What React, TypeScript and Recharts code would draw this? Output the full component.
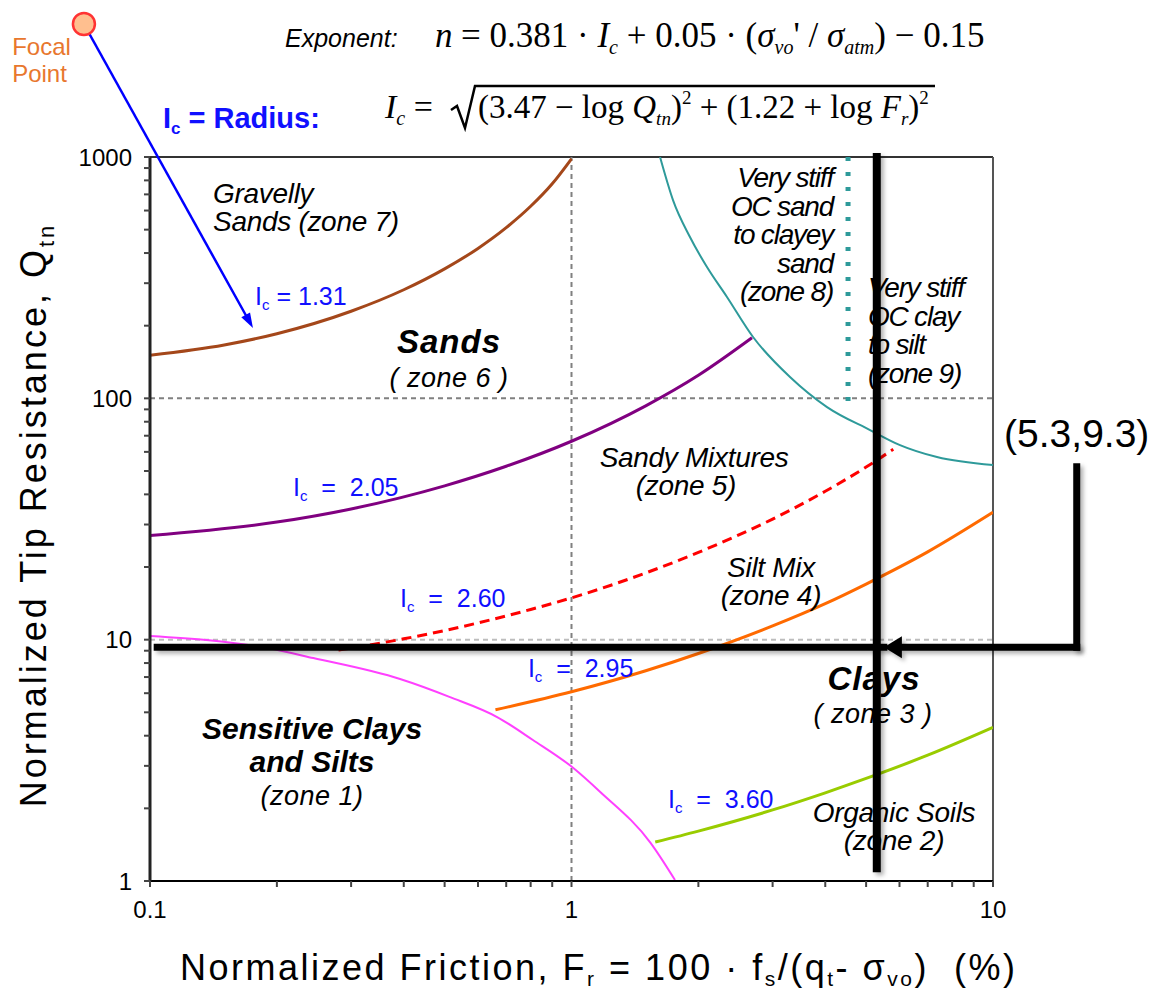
import React from 'react';
import { LineChart, Line, XAxis, YAxis, ReferenceLine, ReferenceDot } from 'recharts';

const SANS = '"Liberation Sans", Arial, sans-serif';
const SERIF = '"Liberation Serif", "Times New Roman", serif';

// log axes: friction ratio Fr (%) and normalized tip resistance Qtn
const frTicks = [0.1, 0.2, 0.3, 0.4, 0.5, 0.6, 0.7, 0.8, 0.9, 1, 2, 3, 4, 5, 6, 7, 8, 9, 10];
const qTicks = [
  1, 2, 3, 4, 5, 6, 7, 8, 9, 10, 20, 30, 40, 50, 60, 70, 80, 90,
  100, 200, 300, 400, 500, 600, 700, 800, 900, 1000,
];
const frLabels = [0.1, 1, 10];
const qLabels = [1, 10, 100, 1000];
const gridFr = [1];
const gridQ = [10, 100];

// I_c contour lines
const ic131 = [
  { fr: 0.1, q: 150.9 }, { fr: 0.15, q: 166.4 }, { fr: 0.2, q: 185.3 }, { fr: 0.3, q: 229.6 },
  { fr: 0.4, q: 281.8 }, { fr: 0.5, q: 344 }, { fr: 0.6, q: 418 }, { fr: 0.7, q: 509.6 },
  { fr: 0.8, q: 624.8 }, { fr: 0.9, q: 774.8 }, { fr: 1.0, q: 983.5 },
];
const ic205 = [
  { fr: 0.1, q: 27.0 }, { fr: 0.2, q: 30.7 }, { fr: 0.3, q: 34.8 }, { fr: 0.5, q: 43.4 },
  { fr: 0.7, q: 52.3 }, { fr: 1.0, q: 66.4 }, { fr: 1.5, q: 93.1 }, { fr: 2.0, q: 124.6 },
  { fr: 2.68, q: 178.2 },
];
const ic260 = [
  { fr: 0.28, q: 9.06 }, { fr: 0.4, q: 10.08 }, { fr: 0.6, q: 11.73 }, { fr: 0.8, q: 13.34 },
  { fr: 1.0, q: 14.9 }, { fr: 1.5, q: 18.9 }, { fr: 2, q: 23.0 }, { fr: 3, q: 31.6 },
  { fr: 4, q: 41.2 }, { fr: 5, q: 51.9 }, { fr: 5.8, q: 61.5 },
];
const ic295 = [
  { fr: 0.66, q: 5.12 }, { fr: 1, q: 6.08 }, { fr: 1.5, q: 7.43 }, { fr: 2, q: 8.76 },
  { fr: 3, q: 11.4 }, { fr: 4, q: 14.1 }, { fr: 5, q: 17.0 }, { fr: 7, q: 23.1 }, { fr: 10, q: 33.7 },
];
const ic360 = [
  { fr: 1.58, q: 1.45 }, { fr: 2, q: 1.61 }, { fr: 3, q: 1.97 }, { fr: 4, q: 2.32 },
  { fr: 5, q: 2.66 }, { fr: 7, q: 3.32 }, { fr: 10, q: 4.33 },
];
// zone 1 boundary
const zone1Edge = [
  { fr: 0.1, q: 10.35 }, { fr: 0.19, q: 9.23 }, { fr: 0.244, q: 8.39 }, { fr: 0.392, q: 6.87 },
  { fr: 0.515, q: 5.78 }, { fr: 0.666, q: 4.78 }, { fr: 0.81, q: 3.84 }, { fr: 1.01, q: 2.94 },
  { fr: 1.17, q: 2.34 }, { fr: 1.54, q: 1.44 }, { fr: 1.76, q: 1.01 },
];
// zone 8/9 boundary
const zone8Edge = [
  { fr: 1.622, q: 1000 }, { fr: 1.741, q: 663 }, { fr: 1.91, q: 466 }, { fr: 2.096, q: 350 },
  { fr: 2.338, q: 263 }, { fr: 2.696, q: 179.5 }, { fr: 3.299, q: 122.6 }, { fr: 4.039, q: 92.0 },
  { fr: 5.108, q: 73.9 }, { fr: 6.017, q: 64.0 }, { fr: 7.364, q: 57.1 }, { fr: 10, q: 52.9 },
];
const zone89Split = { fr: 4.53, qTop: 1000, qBottom: 90 };

// example reading and its call-out
const caseFr = 5.3;
const caseQ = 9.3;
const caseLineStartFr = 0.104;
const caseLineBottomQ = 1.13;
const calloutFr = 15.8;
const calloutTopQ = 52;
const calloutTipFr = 5.51;
const calloutText = { fr: 15.8, q: 62.8, text: '(5.3,9.3)' };

// focal point and radius arrow
const focal = { fr: 0.0697, q: 3557 };
const radiusTip = { fr: 0.1755, q: 195.6 };

const icNotes = [
  { fr: 0.1775, q: 243.6, text: ' = 1.31' },
  { fr: 0.2184, q: 39.4, text: '  =  2.05' },
  { fr: 0.3918, q: 13.65, text: '  =  2.60' },
  { fr: 0.788, q: 7.0, text: '  =  2.95' },
  { fr: 1.694, q: 2.005, text: '  =  3.60' },
];

const notes = [
  { fr: 0.1411, q: 644.7, anchor: 'start', kind: 'zone', lines: ['Gravelly', 'Sands (zone 7)'] },
  { fr: 0.5122, q: 154.0, anchor: 'middle', kind: 'major', lines: ['Sands'] },
  { fr: 0.5122, q: 111.4, anchor: 'middle', kind: 'wide', lines: ['( zone 6 )'] },
  { fr: 1.953, q: 51.9, anchor: 'middle', kind: 'zone', lines: ['Sandy Mixtures'] },
  { fr: 1.869, q: 39.7, anchor: 'middle', kind: 'zone', lines: ['(zone 5)'] },
  { fr: 2.974, q: 18.17, anchor: 'middle', kind: 'zone', lines: ['Silt Mix', '(zone 4)'] },
  { fr: 5.22, q: 6.18, anchor: 'middle', kind: 'major', lines: ['Clays'] },
  { fr: 5.19, q: 4.51, anchor: 'middle', kind: 'wide', lines: ['( zone 3 )'] },
  { fr: 0.2423, q: 3.873, anchor: 'middle', kind: 'bold', lines: ['Sensitive Clays', 'and Silts'] },
  { fr: 0.2423, q: 2.063, anchor: 'middle', kind: 'wide', lines: ['(zone 1)'] },
  { fr: 5.823, q: 1.754, anchor: 'middle', kind: 'zone', lines: ['Organic Soils', '(zone 2)'] },
  { fr: 4.173, q: 751, anchor: 'end', kind: 'tight', lines: ['Very stiff', 'OC sand', 'to clayey', 'sand', '(zone 8)'] },
  { fr: 5.05, q: 262.9, anchor: 'start', kind: 'tight', lines: ['Very stiff', 'OC clay', 'to silt', '(zone 9)'] },
  { fr: 0.0471, q: 2647, anchor: 'start', kind: 'focal', lines: ['Focal', 'Point'] },
];
const radiusNote = { fr: 0.1073, q: 1319 };
const eq1Anchor = { fr: 0.2091, q: 2857 };
const eq2Anchor = { fr: 0.361, q: 1451 };

const noteStyles: Record<string, any> = {
  zone: { size: 28, italic: true, bold: false, color: '#000', spacing: -0.3, lineHeight: 28 },
  tight: { size: 28, italic: true, bold: false, color: '#000', spacing: -1.2, lineHeight: 28.5 },
  wide: { size: 27, italic: true, bold: false, color: '#000', spacing: 0.5, lineHeight: 30 },
  major: { size: 33, italic: true, bold: true, color: '#000', spacing: 1, lineHeight: 34 },
  bold: { size: 30, italic: true, bold: true, color: '#000', spacing: 0, lineHeight: 33 },
  focal: { size: 24, italic: false, bold: false, color: '#E8772E', spacing: 0, lineHeight: 27 },
};

const shadow = 'drop-shadow(3px 3px 2px rgba(0,0,0,0.3))';

function thickLine(width: number) {
  return (p: any) => (
    <line x1={p.x1} y1={p.y1} x2={p.x2} y2={p.y2} stroke="#000" strokeWidth={width}
      strokeLinecap="square" style={{ filter: shadow }} />
  );
}

function arrowLine(color: string, width: number, headLen: number, headHalf: number, withShadow: boolean) {
  return (p: any) => {
    const dx = p.x2 - p.x1;
    const dy = p.y2 - p.y1;
    const len = Math.hypot(dx, dy) || 1;
    const ux = dx / len;
    const uy = dy / len;
    const bx = p.x2 - ux * headLen;
    const by = p.y2 - uy * headLen;
    const pts = `${p.x2},${p.y2} ${bx - uy * headHalf},${by + ux * headHalf} ${bx + uy * headHalf},${by - ux * headHalf}`;
    return (
      <g style={withShadow ? { filter: shadow } : undefined}>
        <line x1={p.x1} y1={p.y1} x2={bx} y2={by} stroke={color} strokeWidth={width} strokeLinecap="square" />
        <polygon points={pts} fill={color} />
      </g>
    );
  };
}

function NoteText({ cx, cy, note }: any) {
  const s = noteStyles[note.kind];
  return (
    <text x={cx} y={cy} textAnchor={note.anchor} fontFamily={SANS} fontSize={s.size}
      fontStyle={s.italic ? 'italic' : 'normal'} fontWeight={s.bold ? 'bold' : 'normal'}
      fill={s.color} letterSpacing={s.spacing} style={{ whiteSpace: 'pre' }}>
      {note.lines.map((t: string, i: number) => (
        <tspan key={i} x={cx} dy={i === 0 ? 0 : s.lineHeight}>{t}</tspan>
      ))}
    </text>
  );
}

function IcText({ cx, cy, text }: any) {
  return (
    <text x={cx} y={cy} fontFamily={SANS} fontSize={25} fill="#1010ff" style={{ whiteSpace: 'pre' }}>
      I<tspan fontSize={15} dy={5}>c</tspan><tspan dy={-5}>{text}</tspan>
    </text>
  );
}

function RadiusText({ cx, cy }: any) {
  return (
    <text x={cx} y={cy} fontFamily={SANS} fontSize={29} fontWeight="bold" fill="#1010ff" style={{ whiteSpace: 'pre' }}>
      I<tspan fontSize={17} dy={6}>c</tspan><tspan dy={-6}>{' = Radius:'}</tspan>
    </text>
  );
}

function Equation1({ cx, cy }: any) {
  return (
    <g fill="#000">
      <text x={cx} y={cy} fontFamily={SANS} fontStyle="italic" fontSize={25}>Exponent:</text>
      <text x={cx + 150} y={cy} fontFamily={SERIF} fontStyle="italic" fontSize={35}>n</text>
      <text x={cx + 176} y={cy} fontFamily={SERIF} fontSize={35} style={{ whiteSpace: 'pre' }}>
        {'= 0.381 · '}
        <tspan fontStyle="italic">I</tspan>
        <tspan fontSize={20} dy={7} fontStyle="italic">c</tspan>
        <tspan dy={-7}>{' + 0.05 · ('}</tspan>
        <tspan fontStyle="italic">σ</tspan>
        <tspan fontSize={20} dy={7} fontStyle="italic">vo</tspan>
        <tspan dy={-7}>{"' / "}</tspan>
        <tspan fontStyle="italic">σ</tspan>
        <tspan fontSize={20} dy={7} fontStyle="italic">atm</tspan>
        <tspan dy={-7}>{') − 0.15'}</tspan>
      </text>
    </g>
  );
}

function Equation2({ cx, cy }: any) {
  return (
    <g fill="#000">
      <text x={cx} y={cy} fontFamily={SERIF} fontSize={34} style={{ whiteSpace: 'pre' }}>
        <tspan fontStyle="italic">I</tspan>
        <tspan fontSize={20} dy={7} fontStyle="italic">c</tspan>
        <tspan dy={-7}>{' = '}</tspan>
      </text>
      <polyline
        points={`${cx + 66},${cy - 8} ${cx + 72},${cy - 12} ${cx + 80},${cy + 10} ${cx + 90},${cy - 32} ${cx + 550},${cy - 32}`}
        fill="none" stroke="#000" strokeWidth={2.5} />
      <text x={cx + 93} y={cy} fontFamily={SERIF} fontSize={33} style={{ whiteSpace: 'pre' }}>
        {'(3.47 − log '}
        <tspan fontStyle="italic">Q</tspan>
        <tspan fontSize={19} dy={7} fontStyle="italic">tn</tspan>
        <tspan dy={-7}>)</tspan>
        <tspan fontSize={19} dy={-14}>2</tspan>
        <tspan dy={14}>{' + (1.22 + log '}</tspan>
        <tspan fontStyle="italic">F</tspan>
        <tspan fontSize={19} dy={7} fontStyle="italic">r</tspan>
        <tspan dy={-7}>)</tspan>
        <tspan fontSize={19} dy={-14}>2</tspan>
      </text>
    </g>
  );
}

function XTitle({ viewBox }: any) {
  const x = viewBox.x + 30;
  const y = viewBox.y + 99;
  return (
    <text x={x} y={y} fontFamily={SANS} fontSize={36} letterSpacing={2.5} fill="#000" style={{ whiteSpace: 'pre' }}>
      {'Normalized Friction, F'}
      <tspan fontSize={21} dy={6}>r</tspan>
      <tspan dy={-6}>{' = 100 · f'}</tspan>
      <tspan fontSize={21} dy={6}>s</tspan>
      <tspan dy={-6}>{'/(q'}</tspan>
      <tspan fontSize={21} dy={6}>t</tspan>
      <tspan dy={-6}>{'- σ'}</tspan>
      <tspan fontSize={21} dy={6}>vo</tspan>
      <tspan dy={-6}>{')  (%)'}</tspan>
    </text>
  );
}

function YTitle({ viewBox }: any) {
  const x = viewBox.x - 44;
  const y = viewBox.y + viewBox.height / 2 - 4;
  return (
    <text x={x} y={y} transform={`rotate(-90, ${x}, ${y})`} textAnchor="middle" fontFamily={SANS}
      fontSize={36} letterSpacing={3} fill="#000">
      Normalized Tip Resistance, Q<tspan fontSize={22} dy={8}>tn</tspan>
    </text>
  );
}

const tickFont = { fontSize: 24, fill: '#000', fontFamily: SANS };

export default function App() {
  return (
    <div style={{ position: 'absolute', left: 0, top: 0, width: 1156, height: 991, background: '#fff' }}>
      <LineChart width={1156} height={991} margin={{ top: 157, right: 163, bottom: 60, left: 90 }}>
        <XAxis
          type="number"
          dataKey="fr"
          scale="log"
          domain={[0.1, 10]}
          allowDataOverflow
          ticks={frTicks}
          interval={0}
          tickFormatter={(v: number) => (frLabels.includes(v) ? String(v) : '')}
          axisLine={{ stroke: '#000', strokeWidth: 2 }}
          tickLine={{ stroke: '#444', strokeWidth: 2 }}
          tickSize={6}
          tickMargin={14}
          tick={tickFont}
          height={50}
          label={{ content: (p: any) => <XTitle viewBox={p.viewBox} /> }}
        />
        <YAxis
          type="number"
          scale="log"
          domain={[1, 1000]}
          allowDataOverflow
          ticks={qTicks}
          interval={0}
          tickFormatter={(v: number) => (qLabels.includes(v) ? String(v) : '')}
          axisLine={{ stroke: '#222', strokeWidth: 3 }}
          tickLine={{ stroke: '#444', strokeWidth: 2 }}
          tickSize={6}
          tickMargin={12}
          tick={tickFont}
          width={60}
          label={{ content: (p: any) => <YTitle viewBox={p.viewBox} /> }}
        />

        {/* frame and dashed grid */}
        <ReferenceLine y={1000} stroke="#333" strokeWidth={2} />
        <ReferenceLine x={10} stroke="#555" strokeWidth={2} />
        {gridFr.map((v) => (
          <ReferenceLine key={`gx${v}`} x={v} stroke="#808080" strokeWidth={2} strokeDasharray="5 4" />
        ))}
        {gridQ.map((v) => (
          <ReferenceLine key={`gy${v}`} y={v} stroke={v === 10 ? '#bdbdbd' : '#808080'} strokeWidth={2} strokeDasharray="5 4" />
        ))}

        {/* soil behaviour type boundaries */}
        <Line data={zone8Edge} dataKey="q" type="monotone" stroke="#2E9A9A" strokeWidth={2} dot={false} activeDot={false} isAnimationActive={false} />
        <ReferenceLine
          segment={[{ x: zone89Split.fr, y: zone89Split.qTop }, { x: zone89Split.fr, y: zone89Split.qBottom }]}
          stroke="#2E9A9A" strokeWidth={5} strokeDasharray="4 11" />
        <Line data={zone1Edge} dataKey="q" type="monotone" stroke="#FF40FF" strokeWidth={2} dot={false} activeDot={false} isAnimationActive={false} />
        <Line data={ic131} dataKey="q" type="monotone" stroke="#A4471A" strokeWidth={3} dot={false} activeDot={false} isAnimationActive={false} />
        <Line data={ic205} dataKey="q" type="monotone" stroke="#800080" strokeWidth={3} dot={false} activeDot={false} isAnimationActive={false} />
        <Line data={ic260} dataKey="q" type="monotone" stroke="#FF0000" strokeWidth={3} strokeDasharray="10 6" dot={false} activeDot={false} isAnimationActive={false} />
        <Line data={ic295} dataKey="q" type="monotone" stroke="#FF6A00" strokeWidth={3} dot={false} activeDot={false} isAnimationActive={false} />
        <Line data={ic360} dataKey="q" type="monotone" stroke="#99CC00" strokeWidth={3} dot={false} activeDot={false} isAnimationActive={false} />

        {/* reading at Fr = 5.3, Qtn = 9.3 */}
        <ReferenceLine
          segment={[{ x: caseFr, y: 1000 }, { x: caseFr, y: caseLineBottomQ }]}
          shape={thickLine(8)} />
        <ReferenceLine
          segment={[{ x: caseLineStartFr, y: caseQ }, { x: calloutTipFr, y: caseQ }]}
          shape={thickLine(7)} />
        <ReferenceLine
          segment={[{ x: calloutFr, y: caseQ }, { x: calloutTipFr, y: caseQ }]}
          ifOverflow="visible" shape={arrowLine('#000', 7, 18, 11, true)} />
        <ReferenceLine
          segment={[{ x: calloutFr, y: calloutTopQ }, { x: calloutFr, y: caseQ }]}
          ifOverflow="visible" shape={thickLine(7)} />
        <ReferenceDot
          x={calloutText.fr} y={calloutText.q} r={0} ifOverflow="visible"
          shape={(p: any) => (
            <text x={p.cx} y={p.cy} textAnchor="middle" fontFamily={SANS} fontSize={39} fill="#000">{calloutText.text}</text>
          )} />

        {/* focal point and radius arrow */}
        <ReferenceLine
          segment={[{ x: focal.fr, y: focal.q }, { x: radiusTip.fr, y: radiusTip.q }]}
          ifOverflow="visible" shape={arrowLine('#0000FF', 2.5, 15, 5, false)} />
        <ReferenceDot x={focal.fr} y={focal.q} r={11} ifOverflow="visible" fill="#FFBF8F" stroke="#FF3333" strokeWidth={2.5} />

        {/* text */}
        {notes.map((n, i) => (
          <ReferenceDot key={`n${i}`} x={n.fr} y={n.q} r={0} ifOverflow="visible"
            shape={(p: any) => <NoteText cx={p.cx} cy={p.cy} note={n} />} />
        ))}
        {icNotes.map((n, i) => (
          <ReferenceDot key={`ic${i}`} x={n.fr} y={n.q} r={0} ifOverflow="visible"
            shape={(p: any) => <IcText cx={p.cx} cy={p.cy} text={n.text} />} />
        ))}
        <ReferenceDot x={radiusNote.fr} y={radiusNote.q} r={0} ifOverflow="visible"
          shape={(p: any) => <RadiusText cx={p.cx} cy={p.cy} />} />
        <ReferenceDot x={eq1Anchor.fr} y={eq1Anchor.q} r={0} ifOverflow="visible"
          shape={(p: any) => <Equation1 cx={p.cx} cy={p.cy} />} />
        <ReferenceDot x={eq2Anchor.fr} y={eq2Anchor.q} r={0} ifOverflow="visible"
          shape={(p: any) => <Equation2 cx={p.cx} cy={p.cy} />} />
      </LineChart>
    </div>
  );
}
